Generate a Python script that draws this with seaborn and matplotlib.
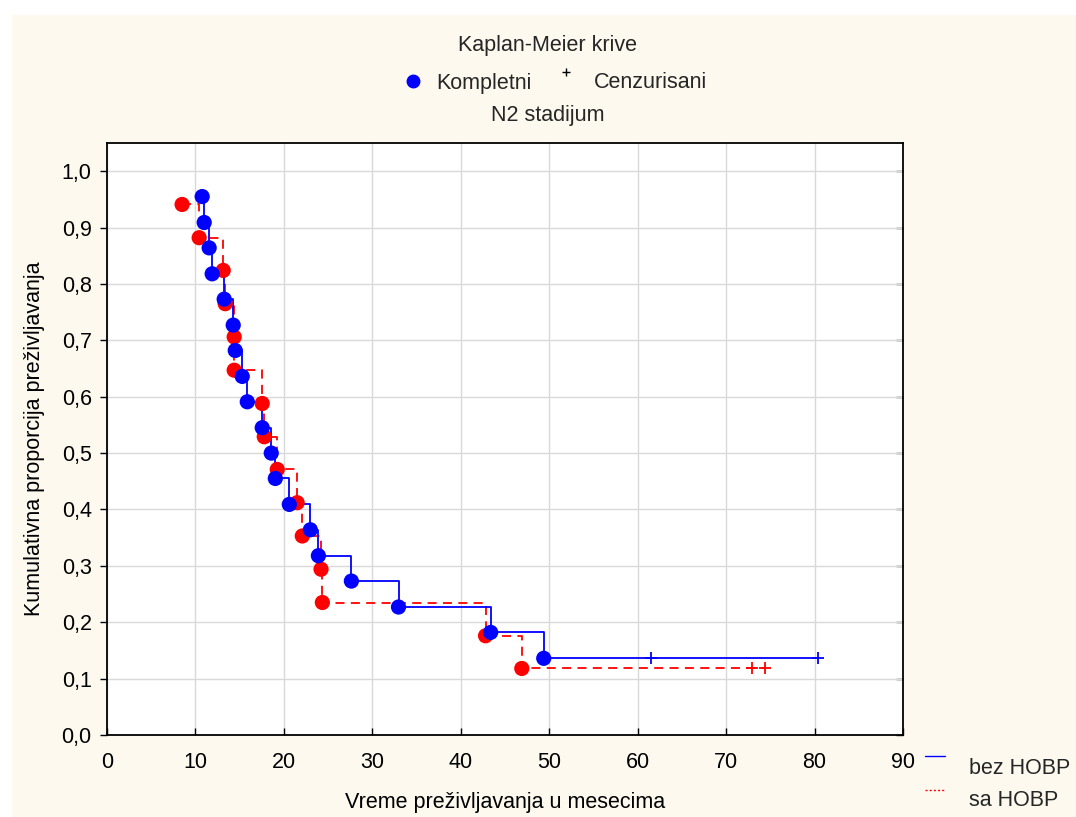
import matplotlib
matplotlib.use("Agg")
import matplotlib.pyplot as plt
from matplotlib.patches import Rectangle
from matplotlib.lines import Line2D
import seaborn as sns
import pandas as pd

# Event times (months) and Kaplan-Meier survival after each event
bez_times = [10.76, 10.99, 11.55, 11.89, 13.25, 14.27, 14.50, 15.29, 15.86, 17.55,
             18.57, 19.03, 20.61, 22.99, 23.90, 27.63, 32.96, 43.38, 49.38]
bez_surv = [0.955, 0.909, 0.864, 0.818, 0.773, 0.727, 0.682, 0.636, 0.591, 0.545,
            0.500, 0.455, 0.409, 0.364, 0.318, 0.273, 0.227, 0.182, 0.136]
bez_cens_times = [61.5, 80.4]
bez_cens_surv = [0.136, 0.136]

sa_times = [8.49, 10.42, 13.14, 13.36, 14.38, 14.38, 17.55, 17.78, 19.25, 21.50,
            22.08, 24.20, 24.35, 42.80, 46.90]
sa_surv = [0.941, 0.882, 0.824, 0.765, 0.706, 0.647, 0.588, 0.529, 0.471, 0.412,
           0.353, 0.294, 0.235, 0.176, 0.118]
sa_cens_times = [72.9, 74.4]
sa_cens_surv = [0.118, 0.118]

x_ticks = [0, 10, 20, 30, 40, 50, 60, 70, 80, 90]
y_ticks = [0.0, 0.1, 0.2, 0.3, 0.4, 0.5, 0.6, 0.7, 0.8, 0.9, 1.0]

sns.set_theme(style="white")
plt.rcParams["font.family"] = ["Liberation Sans", "DejaVu Sans"]

BLUE = "#0000ff"
RED = "#ff0000"
CREAM = "#fdf9ef"
FS = 15.5

fig = plt.figure(figsize=(10.76, 8.17), dpi=100, facecolor="white")
fig.patches.append(Rectangle((12 / 1076, 0), 1, 1 - 15 / 817, transform=fig.transFigure,
                             facecolor=CREAM, edgecolor="none", zorder=-10))
ax = fig.add_axes([107 / 1076, 1 - 735 / 817, (903 - 107) / 1076, (735 - 143) / 817])
ax.set_facecolor("white")


def km_frame(times, surv, cens_t, cens_s):
    # step path continues to the last censored observation
    t = list(times) + [cens_t[-1]]
    s = list(surv) + [cens_s[-1]]
    return pd.DataFrame({"t": t, "s": s})


bez = km_frame(bez_times, bez_surv, bez_cens_times, bez_cens_surv)
sa = km_frame(sa_times, sa_surv, sa_cens_times, sa_cens_surv)

sns.lineplot(data=sa, x="t", y="s", ax=ax, color=RED, lw=1.3, drawstyle="steps-post",
             linestyle=(0, (5, 3.5)), estimator=None, sort=False, zorder=3)
sns.lineplot(data=bez, x="t", y="s", ax=ax, color=BLUE, lw=1.3, drawstyle="steps-post",
             estimator=None, sort=False, zorder=4)

sns.scatterplot(x=sa_times, y=sa_surv, ax=ax, color=RED, s=120, edgecolor="none", zorder=5)
sns.scatterplot(x=bez_times, y=bez_surv, ax=ax, color=BLUE, s=120, edgecolor="none", zorder=6)
sns.scatterplot(x=sa_cens_times, y=sa_cens_surv, ax=ax, color=RED, marker="+", s=80,
                linewidth=1.3, zorder=5)
sns.scatterplot(x=bez_cens_times, y=bez_cens_surv, ax=ax, color=BLUE, marker="+", s=80,
                linewidth=1.3, zorder=6)

ax.set_xlim(0, 90)
ax.set_ylim(0, 1.05)
ax.set_xticks(x_ticks)
ax.set_yticks(y_ticks)
ax.set_xticklabels([str(v) for v in x_ticks])
ax.set_yticklabels([f"{v:.1f}".replace(".", ",") for v in y_ticks])
ax.grid(True, color="#d9d9d9", lw=1.0)
ax.set_axisbelow(True)
for sp in ax.spines.values():
    sp.set_color("black")
    sp.set_linewidth(1.3)
ax.tick_params(axis="x", direction="in", length=5, width=1, colors="black",
               labelsize=FS, pad=12, bottom=True, top=False)
ax.tick_params(axis="y", direction="out", length=5, width=1, colors="black",
               labelsize=FS, pad=6, left=True, right=False)
right = ax.secondary_yaxis("right")
right.set_yticks(y_ticks)
right.tick_params(direction="in", length=5, width=1, labelright=False, colors="black")
right.spines["right"].set_visible(False)

ax.set_xlabel("Vreme preživljavanja u mesecima", fontsize=FS, color="black", labelpad=14)
ax.set_ylabel("Kumulativna proporcija preživljavanja", fontsize=FS, color="black", labelpad=12)

# header texts above the plot
fig.text(548 / 1076, 1 - 45 / 817, "Kaplan-Meier krive", ha="center", va="center", fontsize=FS)
fig.text(548 / 1076, 1 - 115 / 817, "N2 stadijum", ha="center", va="center", fontsize=FS)
fig.add_artist(Line2D([413 / 1076], [1 - 81 / 817], marker="o", markersize=9, color=BLUE,
                      transform=fig.transFigure))
fig.text(436 / 1076, 1 - 83 / 817, "Kompletni", ha="left", va="center", fontsize=FS)
fig.add_artist(Line2D([566 / 1076], [1 - 72 / 817], marker="+", markersize=6, color="black",
                      markeredgewidth=1, transform=fig.transFigure))
fig.text(594 / 1076, 1 - 83 / 817, "Cenzurisani", ha="left", va="center", fontsize=FS)

# group key at the bottom right
fig.add_artist(Line2D([925 / 1076, 945 / 1076], [1 - 756 / 817] * 2, color=BLUE, lw=1,
                      transform=fig.transFigure))
fig.add_artist(Line2D([925 / 1076, 945 / 1076], [1 - 790 / 817] * 2, color=RED, lw=1,
                      linestyle=(0, (1.5, 1.5)), transform=fig.transFigure))
fig.text(969 / 1076, 1 - 768 / 817, "bez HOBP", ha="left", va="center", fontsize=FS)
fig.text(969 / 1076, 1 - 801 / 817, "sa HOBP", ha="left", va="center", fontsize=FS)

fig.savefig("out.png", dpi=100, facecolor=fig.get_facecolor())
